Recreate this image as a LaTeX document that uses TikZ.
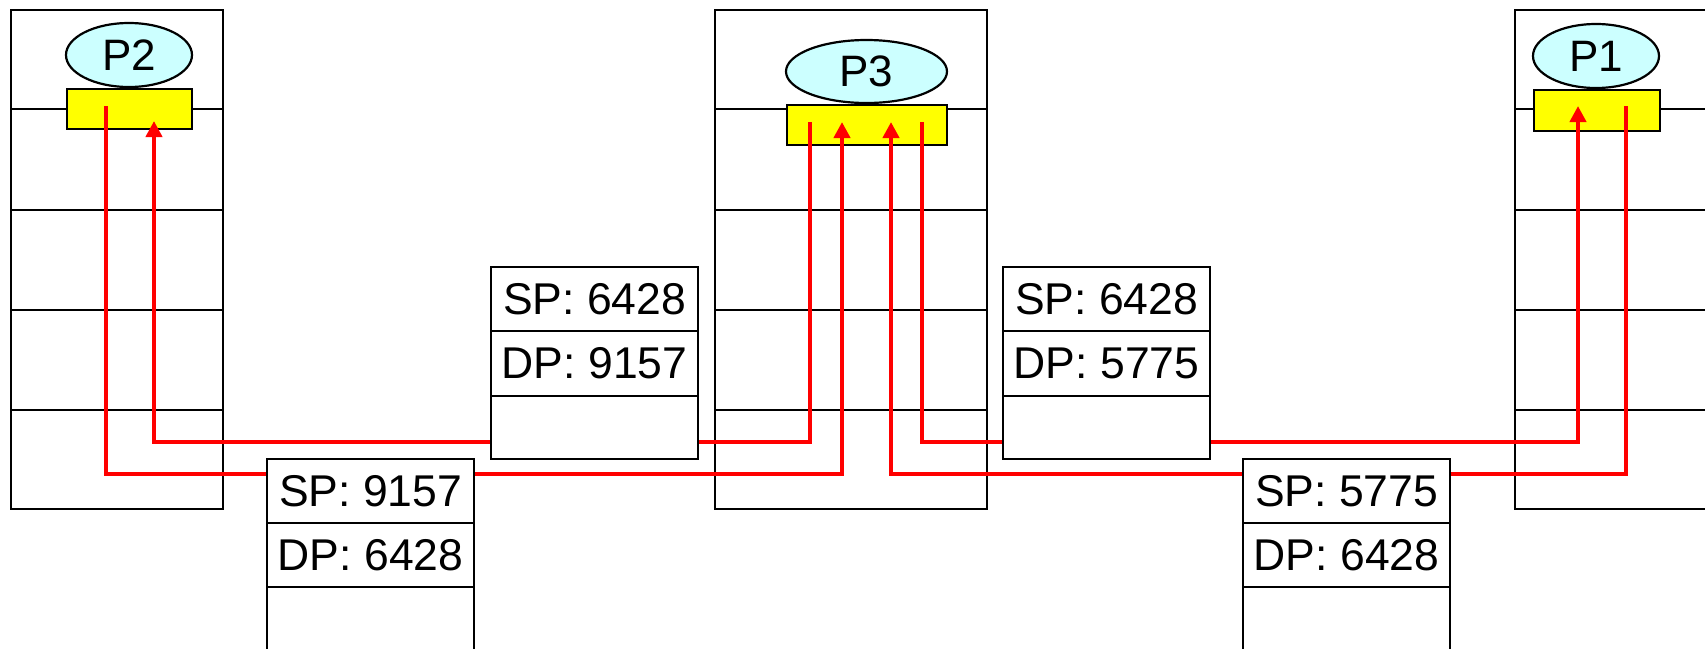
\documentclass[tikz,border=0pt]{standalone}
\usepackage{fontspec}
\setmainfont{Liberation Sans}
\usetikzlibrary{arrows.meta,shapes.geometric}
\definecolor{proccyan}{HTML}{CCFFFF}
\definecolor{sockyellow}{HTML}{FFFF00}
\definecolor{linkred}{HTML}{FF0000}
\tikzset{
  blk/.style={draw=black, line width=2.2pt},
  hostbox/.style={blk, minimum width=212pt, minimum height=499pt, anchor=north west, inner sep=0pt},
  sockbox/.style={blk, fill=sockyellow, anchor=north west, inner sep=0pt},
  procell/.style={blk, ellipse, fill=proccyan, inner sep=0pt, font=\fontsize{44pt}{48pt}\selectfont},
  hdrcell/.style={blk, fill=white, minimum width=207pt, minimum height=64pt, anchor=north west, inner sep=0pt, font=\fontsize{44.5pt}{48pt}\selectfont},
  conn/.style={draw=linkred, line width=4pt},
  connarrow/.style={conn, -{Triangle[length=16pt,width=16pt]}},
}
\begin{document}
\begin{tikzpicture}[x=1pt,y=-1pt]
\useasboundingbox (0,0) rectangle (1705,648);
\clip (0,0) rectangle (1705,648);
% hosts
\node[hostbox] (h2) at (10,9) {};
\node[hostbox, minimum width=272pt] (h3) at (714,9) {};
\node[hostbox, minimum width=230pt] (h1) at (1514,9) {};
% layer lines
\foreach \yy in {109,210,310,410}{
  \draw[blk] (10,\yy) -- (222,\yy);
  \draw[blk] (714,\yy) -- (986,\yy);
  \draw[blk] (1514,\yy) -- (1744,\yy);
}
% sockets
\node[sockbox, minimum width=125pt, minimum height=40pt] (s2) at (66,88) {};
\node[sockbox, minimum width=160pt, minimum height=40pt] (s3) at (786,104) {};
\node[sockbox, minimum width=126pt, minimum height=41pt] (s1) at (1533,89) {};
% processes
\node[procell, minimum width=126pt, minimum height=64pt] (p2) at (129,55) {P2};
\node[procell, minimum width=161pt, minimum height=63pt] (p3) at (866.5,71.5) {P3};
\node[procell, minimum width=126pt, minimum height=64pt] (p1) at (1596,56) {P1};
% connector end points inside the sockets
\coordinate (p2out) at (106,106);
\coordinate (p2in) at (154,121);
\coordinate (p3outA) at (810,122);
\coordinate (p3inA) at (842,122);
\coordinate (p3inB) at (891,122);
\coordinate (p3outB) at (922,122);
\coordinate (p1in) at (1578,106);
\coordinate (p1out) at (1626,106);
% connectors
\draw[connarrow] (p2out) -- (p2out |- 0,474) -| (p3inA);
\draw[connarrow] (p3outA) -- (p3outA |- 0,442) -| (p2in);
\draw[connarrow] (p3outB) -- (p3outB |- 0,442) -| (p1in);
\draw[connarrow] (p1out) -- (p1out |- 0,474) -| (p3inB);
% segment headers
\node[hdrcell] (b1a) at (490,266) {SP: 6428};
\node[hdrcell, minimum height=65pt] (b1b) at (490,330) {DP: 9157};
\node[hdrcell, minimum height=63pt] (b1c) at (490,395) {};
\node[hdrcell] (b2a) at (266,458) {SP: 9157};
\node[hdrcell] (b2b) at (266,522) {DP: 6428};
\node[hdrcell] (b2c) at (266,586) {};
\node[hdrcell] (b3a) at (1002,266) {SP: 6428};
\node[hdrcell, minimum height=65pt] (b3b) at (1002,330) {DP: 5775};
\node[hdrcell, minimum height=63pt] (b3c) at (1002,395) {};
\node[hdrcell] (b4a) at (1242,458) {SP: 5775};
\node[hdrcell] (b4b) at (1242,522) {DP: 6428};
\node[hdrcell] (b4c) at (1242,586) {};
\end{tikzpicture}
\end{document}
